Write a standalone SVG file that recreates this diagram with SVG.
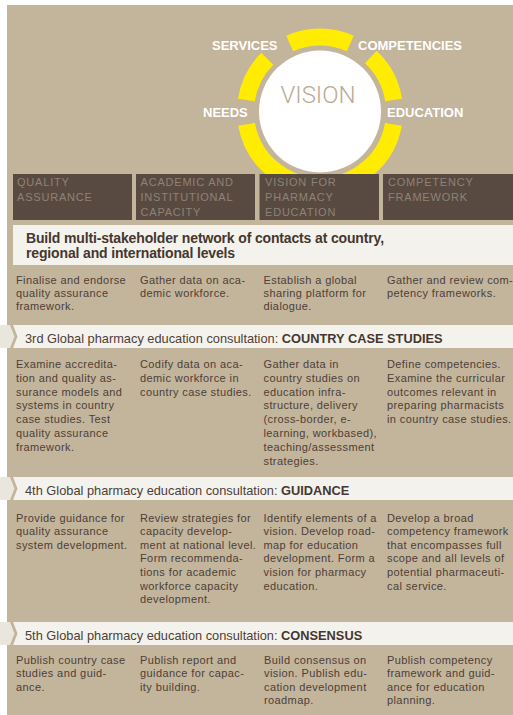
<svg xmlns="http://www.w3.org/2000/svg" width="513" height="715" viewBox="0 0 513 715">
<style>
text{font-family:"Liberation Sans",Arial,sans-serif}
.body{font-size:11px;letter-spacing:0.4px;fill:#4d4037}
.hdr{font-size:11px;letter-spacing:0.8px;fill:#8e8275}
.ban{font-size:12.8px;fill:#4d4037}
.b{font-weight:bold;fill:#45372f}
.lbl{font-size:13px;font-weight:bold;fill:#ffffff}
.vis{font-family:Roboto,"Liberation Sans",sans-serif;font-weight:300;font-size:24px;fill:#b9ab94}
.hbox{fill:#594a41}
.band{fill:#f4f2ec}
.tail{fill:#e9e6de}
.ring{fill:none;stroke:#ffec00;stroke-width:17}
</style>
<defs>
<clipPath id="topclip"><rect x="0" y="0" width="513" height="174"/></clipPath>
</defs>
<rect x="0" y="0" width="513" height="715" fill="#ffffff"/>
<rect x="7" y="5" width="506" height="710" fill="#c3b49c"/>

<g id="vision" clip-path="url(#topclip)">
<circle cx="320" cy="111.5" r="61" fill="#ffffff"/>
<path class="ring" d="M289.7,43.4 A74.5,74.5 0 0 1 350.3,43.4"/>
<path class="ring" d="M370.8,57 A74.5,74.5 0 0 1 393.6,100"/>
<path class="ring" d="M393.4,124.4 A74.5,74.5 0 0 1 320,186"/>
<path class="ring" d="M320,186 A74.5,74.5 0 0 1 246.6,124.4"/>
<path class="ring" d="M246.4,100 A74.5,74.5 0 0 1 267.3,58.8"/>
<text class="vis" x="318" y="103" text-anchor="middle">VISION</text>
<text class="lbl" x="212" y="50">SERVICES</text>
<text class="lbl" x="358" y="50">COMPETENCIES</text>
<text class="lbl" x="203" y="117">NEEDS</text>
<text class="lbl" x="387" y="117">EDUCATION</text>
</g>

<g id="headers">
<g id="h-quality"><rect class="hbox" x="13" y="174" width="119" height="46"/>
<text class="hdr"><tspan x="17" y="186">QUALITY</tspan><tspan x="17" y="201">ASSURANCE</tspan></text></g>
<g id="h-academic"><rect class="hbox" x="136" y="174" width="119" height="46"/>
<text class="hdr"><tspan x="140.5" y="186">ACADEMIC AND</tspan><tspan x="140.5" y="201">INSTITUTIONAL</tspan><tspan x="140.5" y="216">CAPACITY</tspan></text></g>
<g id="h-vision"><rect class="hbox" x="259.5" y="174" width="119.5" height="46"/>
<text class="hdr"><tspan x="265" y="186">VISION FOR</tspan><tspan x="265" y="201">PHARMACY</tspan><tspan x="265" y="216">EDUCATION</tspan></text></g>
<g id="h-competency"><rect class="hbox" x="383" y="174" width="130" height="46"/>
<text class="hdr"><tspan x="388" y="186">COMPETENCY</tspan><tspan x="388" y="201">FRAMEWORK</tspan></text></g>
</g>

<g id="banner1">
<rect class="band" x="13" y="225" width="500" height="40"/>
<text class="b" style="font-size:14px;letter-spacing:-0.15px"><tspan x="26" y="242.5">Build multi-stakeholder network of contacts at country,</tspan><tspan x="26" y="258">regional and international levels</tspan></text>
</g>

<g id="row1" class="body">
<text class="body"><tspan x="16" y="283.5">Finalise and endorse</tspan><tspan x="16" y="296.5">quality assurance</tspan><tspan x="16" y="309.5">framework.</tspan></text>
<text class="body"><tspan x="140" y="283.5">Gather data on aca-</tspan><tspan x="140" y="296.5">demic workforce.</tspan></text>
<text class="body"><tspan x="263.5" y="283.5">Establish a global</tspan><tspan x="263.5" y="296.5">sharing platform for</tspan><tspan x="263.5" y="309.5">dialogue.</tspan></text>
<text class="body"><tspan x="387" y="283.5">Gather and review com-</tspan><tspan x="387" y="296.5">petency frameworks.</tspan></text>
</g>

<g id="banner2">
<polygon class="tail" points="0,325 10,325 14.5,336.5 10,348 0,348"/>
<polygon class="band" points="13,325 513,325 513,348 13,348 17.5,336.5"/>
<text class="ban" x="25" y="342.5">3rd Global pharmacy education consultation: <tspan class="b">COUNTRY CASE STUDIES</tspan></text>
</g>

<g id="row2">
<text class="body"><tspan x="16" y="368">Examine accredita-</tspan><tspan x="16" y="381.8">tion and quality as-</tspan><tspan x="16" y="395.6">surance models and</tspan><tspan x="16" y="409.4">systems in country</tspan><tspan x="16" y="423.2">case studies. Test</tspan><tspan x="16" y="437">quality assurance</tspan><tspan x="16" y="450.8">framework.</tspan></text>
<text class="body"><tspan x="140" y="368">Codify data on aca-</tspan><tspan x="140" y="381.8">demic workforce in</tspan><tspan x="140" y="395.6">country case studies.</tspan></text>
<text class="body"><tspan x="263.5" y="368">Gather data in</tspan><tspan x="263.5" y="381.8">country studies on</tspan><tspan x="263.5" y="395.6">education infra-</tspan><tspan x="263.5" y="409.4">structure, delivery</tspan><tspan x="263.5" y="423.2">(cross-border, e-</tspan><tspan x="263.5" y="437">learning, workbased),</tspan><tspan x="263.5" y="450.8">teaching/assessment</tspan><tspan x="263.5" y="464.6">strategies.</tspan></text>
<text class="body"><tspan x="387" y="368">Define competencies.</tspan><tspan x="387" y="381.8">Examine the curricular</tspan><tspan x="387" y="395.6">outcomes relevant in</tspan><tspan x="387" y="409.4">preparing pharmacists</tspan><tspan x="387" y="423.2">in country case studies.</tspan></text>
</g>

<g id="banner3">
<polygon class="tail" points="0,477 10,477 14.5,488.5 10,500 0,500"/>
<polygon class="band" points="13,477 513,477 513,500 13,500 17.5,488.5"/>
<text class="ban" x="25" y="494.5">4th Global pharmacy education consultation: <tspan class="b">GUIDANCE</tspan></text>
</g>

<g id="row3">
<text class="body"><tspan x="16" y="521.5">Provide guidance for</tspan><tspan x="16" y="535.1">quality assurance</tspan><tspan x="16" y="548.7">system development.</tspan></text>
<text class="body"><tspan x="140" y="521.5">Review strategies for</tspan><tspan x="140" y="535.1">capacity develop-</tspan><tspan x="140" y="548.7">ment at national level.</tspan><tspan x="140" y="562.3">Form recommenda-</tspan><tspan x="140" y="575.9">tions for academic</tspan><tspan x="140" y="589.5">workforce capacity</tspan><tspan x="140" y="603.1">development.</tspan></text>
<text class="body"><tspan x="263.5" y="521.5">Identify elements of a</tspan><tspan x="263.5" y="535.1">vision. Develop road-</tspan><tspan x="263.5" y="548.7">map for education</tspan><tspan x="263.5" y="562.3">development. Form a</tspan><tspan x="263.5" y="575.9">vision for pharmacy</tspan><tspan x="263.5" y="589.5">education.</tspan></text>
<text class="body"><tspan x="387" y="521.5">Develop a broad</tspan><tspan x="387" y="535.1">competency framework</tspan><tspan x="387" y="548.7">that encompasses full</tspan><tspan x="387" y="562.3">scope and all levels of</tspan><tspan x="387" y="575.9">potential pharmaceuti-</tspan><tspan x="387" y="589.5">cal service.</tspan></text>
</g>

<g id="banner4">
<polygon class="tail" points="0,622 10,622 14.5,633.5 10,645 0,645"/>
<polygon class="band" points="13,622 513,622 513,645 13,645 17.5,633.5"/>
<text class="ban" x="25" y="639.5">5th Global pharmacy education consultation: <tspan class="b">CONSENSUS</tspan></text>
</g>

<g id="row4">
<text class="body"><tspan x="16" y="663.5">Publish country case</tspan><tspan x="16" y="677.1">studies and guid-</tspan><tspan x="16" y="690.7">ance.</tspan></text>
<text class="body"><tspan x="140" y="663.5">Publish report and</tspan><tspan x="140" y="677.1">guidance for capac-</tspan><tspan x="140" y="690.7">ity building.</tspan></text>
<text class="body"><tspan x="264" y="663.5">Build consensus on</tspan><tspan x="264" y="677.1">vision. Publish edu-</tspan><tspan x="264" y="690.7">cation development</tspan><tspan x="264" y="704.3">roadmap.</tspan></text>
<text class="body"><tspan x="387" y="663.5">Publish competency</tspan><tspan x="387" y="677.1">framework and guid-</tspan><tspan x="387" y="690.7">ance for education</tspan><tspan x="387" y="704.3">planning.</tspan></text>
</g>

<g id="connectors"></g>
</svg>
